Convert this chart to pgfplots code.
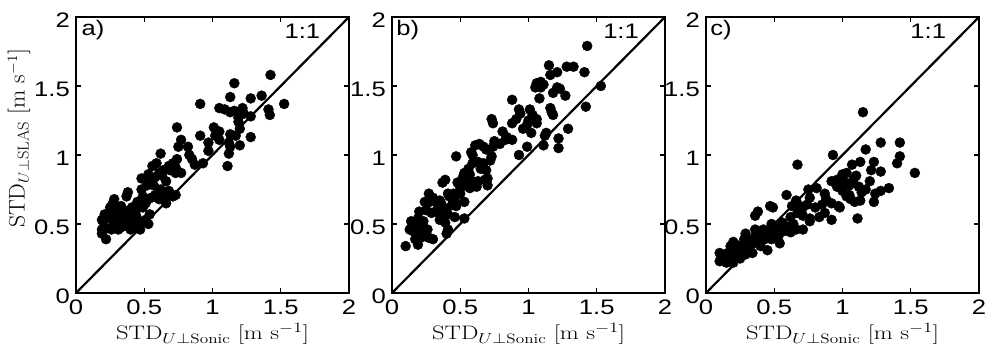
\documentclass[border=0pt]{standalone}
\usepackage{pgfplots}
\pgfplotsset{compat=1.18}
\usepackage{fontspec}
\newfontfamily\hel[FakeStretch=1.22]{Liberation Sans}
\newcommand{\lab}[1]{\scalebox{1.26}[1]{#1}}
\newcommand{\ylab}[1]{\scalebox{1.05}[1]{#1}}

\pgfplotsset{
 mystyle/.style={
  width=273pt,height=276pt,scale only axis,
  xmin=0,xmax=2,ymin=0,ymax=2,
  xtick={0,0.5,1,1.5,2}, ytick={0,0.5,1,1.5,2},
  xticklabels={0,0.5,1,1.5,2}, yticklabels={0,0.5,1,1.5,2},
  tick label style={font=\fontsize{21}{22}\hel, inner sep=1pt},
  xticklabel style={yshift=-6pt},
  yticklabel style={xshift=-5pt, yshift=-3pt},
  label style={inner sep=0pt},
  xlabel={\fontsize{19.5}{22}\selectfont\lab{STD$_{U\perp\mathrm{Sonic}}$ [m s$^{-1}$]}},
  xlabel style={at={(axis description cs:0.5,0)}, anchor=base, yshift=-47pt},
  axis line style={line width=2.6pt},
  tick style={line width=1.2pt, black},
  major tick length=5pt,
  tick align=inside,
  anchor=south west,
 },
 dots/.style={only marks, mark=*, mark size=5pt, mark options={fill=black, draw=black}},
}

\begin{document}
\begin{tikzpicture}
% ---------- panel a
\begin{axis}[mystyle, at={(76pt,60pt)},
  ylabel={\fontsize{22.5}{25}\selectfont\ylab{STD$_{U\perp\mathrm{SLAS}}$ [m s$^{-1}$]}},
  ylabel style={at={(axis description cs:-0.188,0.56)}, anchor=base}]
\addplot[black, line width=2.2pt] coordinates {(0,0) (2,2)};
\addplot[dots] coordinates {
(1.425,1.58) (1.525,1.37) (1.16,1.52) (1.36,1.43) (1.28,1.41) (0.91,1.37) (1.13,1.42)
(1.05,1.34) (1.09,1.33) (1.13,1.31) (1.16,1.32) (1.22,1.34) (1.19,1.27) (1.23,1.30)
(1.41,1.33) (1.42,1.29) (1.28,1.28) (1.19,1.24) (1.20,1.19) (0.74,1.20)
(1.01,1.20) (1.05,1.17) (1.02,1.14) (0.91,1.14) (1.05,1.11) (0.97,1.09)
(1.13,1.15) (1.12,1.09) (1.20,1.07) (1.28,1.13) (1.17,1.14) (0.77,1.11) (0.75,1.06)
(0.82,1.06) (0.97,1.03) (1.12,1.01) (1.13,1.06) (1.11,0.92) (0.62,1.01)
(0.83,1.00) (0.85,0.97) (0.87,0.93) (0.93,0.94)
(0.74,0.97) (0.71,0.94) (0.68,0.92) (0.67,0.90) (0.73,0.91) (0.77,0.87) (0.73,0.87) (0.69,0.89)
(0.59,0.94) (0.56,0.92) (0.64,0.89) (0.61,0.87) (0.58,0.84) (0.63,0.85) (0.66,0.81)
(0.53,0.86) (0.53,0.82) (0.48,0.83) (0.52,0.78) (0.48,0.75)
(0.57,0.78) (0.62,0.75) (0.61,0.68) (0.65,0.70) (0.68,0.74) (0.71,0.70) (0.66,0.65) (0.73,0.71)
(0.55,0.69) (0.51,0.65) (0.49,0.70) (0.49,0.62) (0.38,0.73) (0.37,0.70)
(0.27,0.65) (0.25,0.62) (0.28,0.68) (0.33,0.63) (0.36,0.59) (0.41,0.62) (0.42,0.58)
(0.30,0.57) (0.32,0.54) (0.36,0.54) (0.39,0.53) (0.44,0.56) (0.47,0.52) (0.51,0.53) (0.54,0.57)
(0.53,0.50) (0.20,0.52) (0.19,0.53) (0.21,0.57) (0.25,0.56)
(0.27,0.52) (0.30,0.48) (0.31,0.46) (0.34,0.48) (0.38,0.50) (0.40,0.46) (0.42,0.50)
(0.44,0.48) (0.47,0.46) (0.19,0.46) (0.22,0.47) (0.26,0.46) (0.22,0.39) (0.19,0.43)
(0.35,0.60) (0.44,0.60) (0.29,0.60) (0.58,0.71) (0.45,0.66)
};
\node[anchor=north west, font=\fontsize{21}{22}\hel, inner sep=0pt] at (axis cs:0.04,1.98) {a)};
\node[anchor=north east, font=\fontsize{21}{22}\hel, inner sep=0pt] at (axis cs:1.79,1.95) {1:1};
\end{axis}
% ---------- panel b
\begin{axis}[mystyle, at={(392pt,60pt)}]
\addplot[black, line width=2.2pt] coordinates {(0,0) (2,2)};
\addplot[dots] coordinates {
(1.43,1.79) (1.53,1.50) (1.42,1.35) (1.29,1.19) (1.22,1.12) (1.22,1.05) (1.12,1.14) (1.11,1.07)
(1.28,1.64) (1.33,1.64) (1.41,1.60) (1.15,1.65) (1.21,1.60) (1.16,1.58)
(1.06,1.52) (1.09,1.53) (1.05,1.49) (1.09,1.49) (1.11,1.51) (1.21,1.49) (1.23,1.48)
(1.18,1.45) (1.27,1.43) (1.08,1.41) (0.88,1.40) (1.16,1.34) (1.17,1.31) (1.18,1.29) (1.13,1.16)
(0.93,1.33) (0.94,1.30) (0.91,1.26) (1.01,1.33) (1.03,1.29) (1.00,1.25) (1.06,1.26)
(0.99,1.22) (1.02,1.16) (1.06,1.23) (0.96,1.19) (0.88,1.23) (0.73,1.26) (0.74,1.23)
(0.81,1.17) (0.84,1.13) (0.88,1.11) (0.79,1.08) (0.83,1.11) (0.75,1.10) (0.74,1.06)
(0.69,1.04) (0.67,1.06) (0.93,1.00) (0.99,1.06) (0.73,0.99) (0.72,0.96) (0.64,1.08)
(0.61,1.07) (0.58,1.02) (0.59,1.00) (0.47,0.99) (0.63,0.95) (0.67,0.94) (0.65,0.90)
(0.69,0.89) (0.59,0.94) (0.56,0.90) (0.53,0.87) (0.52,0.84) (0.57,0.86)
(0.68,0.82) (0.70,0.83) (0.70,0.78) (0.63,0.81) (0.62,0.77) (0.59,0.81) (0.54,0.78) (0.57,0.76)
(0.48,0.80) (0.50,0.72) (0.39,0.82) (0.37,0.80) (0.41,0.72) (0.42,0.70) (0.45,0.72)
(0.53,0.66) (0.46,0.67) (0.47,0.63) (0.35,0.67) (0.36,0.65) (0.40,0.61) (0.37,0.58) (0.41,0.57)
(0.27,0.72) (0.30,0.69) (0.32,0.66) (0.26,0.65) (0.24,0.66) (0.25,0.60) (0.29,0.58) (0.32,0.59)
(0.35,0.53) (0.39,0.51) (0.41,0.46) (0.46,0.55) (0.53,0.54) (0.20,0.59) (0.19,0.54) (0.18,0.51)
(0.14,0.52) (0.13,0.46) (0.20,0.48) (0.21,0.43) (0.19,0.41) (0.17,0.39) (0.21,0.40)
(0.26,0.46) (0.27,0.40) (0.30,0.39) (0.10,0.34) (0.19,0.35) (0.40,0.43) (0.34,0.62) (0.44,0.64)
(0.15,0.45) (0.23,0.52) (0.50,0.76) (0.55,0.82)
};
\node[anchor=north west, font=\fontsize{21}{22}\hel, inner sep=0pt] at (axis cs:0.03,1.98) {b)};
\node[anchor=north east, font=\fontsize{21}{22}\hel, inner sep=0pt] at (axis cs:1.81,1.95) {1:1};
\end{axis}
% ---------- panel c
\begin{axis}[mystyle, at={(706pt,60pt)}]
\addplot[black, line width=2.2pt] coordinates {(0,0) (2,2)};
\addplot[dots] coordinates {
(1.15,1.31) (1.53,0.87) (1.42,1.09) (1.42,0.99) (1.40,0.94) (1.28,1.09) (1.17,1.04) (0.93,1.00)
(0.67,0.93) (1.13,0.95) (1.07,0.93) (1.23,0.95) (1.21,0.89) (1.28,0.88) (1.34,0.76) (1.28,0.74)
(1.23,0.66) (1.24,0.72) (1.13,0.67) (1.12,0.77) (1.08,0.82) (1.02,0.80) (1.00,0.74) (1.03,0.70)
(1.06,0.68) (1.09,0.66) (1.14,0.73) (1.17,0.75) (1.20,0.81) (1.00,0.86) (1.03,0.87) (0.96,0.82)
(0.96,0.77) (1.11,0.54) (1.05,0.71) (0.98,0.62) (0.97,0.63) (0.92,0.53) (0.87,0.58) (0.85,0.64)
(0.88,0.68) (0.92,0.65) (0.87,0.72) (0.92,0.81) (0.81,0.76) (0.75,0.75) (0.76,0.69) (0.74,0.64)
(0.69,0.63) (0.67,0.58) (0.71,0.56) (0.76,0.54) (0.66,0.67) (0.59,0.71) (0.63,0.63) (0.49,0.62)
(0.47,0.63) (0.38,0.59) (0.36,0.56) (0.48,0.50) (0.50,0.43) (0.48,0.39) (0.53,0.41) (0.54,0.36)
(0.44,0.42) (0.36,0.46) (0.37,0.43) (0.39,0.40) (0.40,0.34) (0.45,0.31) (0.34,0.39) (0.38,0.36)
(0.43,0.39) (0.29,0.43) (0.28,0.39) (0.27,0.34) (0.25,0.33) (0.29,0.37) (0.20,0.37) (0.18,0.34)
(0.22,0.35) (0.21,0.30) (0.16,0.29) (0.17,0.24) (0.12,0.27) (0.20,0.22) (0.10,0.29) (0.10,0.23)
(0.15,0.22) (0.13,0.25) (0.29,0.28) (0.25,0.25) (0.34,0.29) (0.56,0.51) (0.66,0.46) (0.71,0.46)
(0.76,0.52) (0.60,0.48) (0.62,0.44) (0.58,0.45) (0.64,0.50) (0.56,0.45) (0.52,0.47)
(0.42,0.46) (0.31,0.31) (0.23,0.28) (0.33,0.35) (0.45,0.45) (0.62,0.55) (0.70,0.60) (0.80,0.62)
(0.83,0.55) (1.05,0.78) (1.10,0.85)
};
\node[anchor=north west, font=\fontsize{21}{22}\hel, inner sep=0pt] at (axis cs:0.03,1.98) {c)};
\node[anchor=north east, font=\fontsize{21}{22}\hel, inner sep=0pt] at (axis cs:1.76,1.95) {1:1};
\end{axis}
\pgfresetboundingbox
\path[use as bounding box] (0,0) rectangle (988pt,353pt);
\end{tikzpicture}
\end{document}
